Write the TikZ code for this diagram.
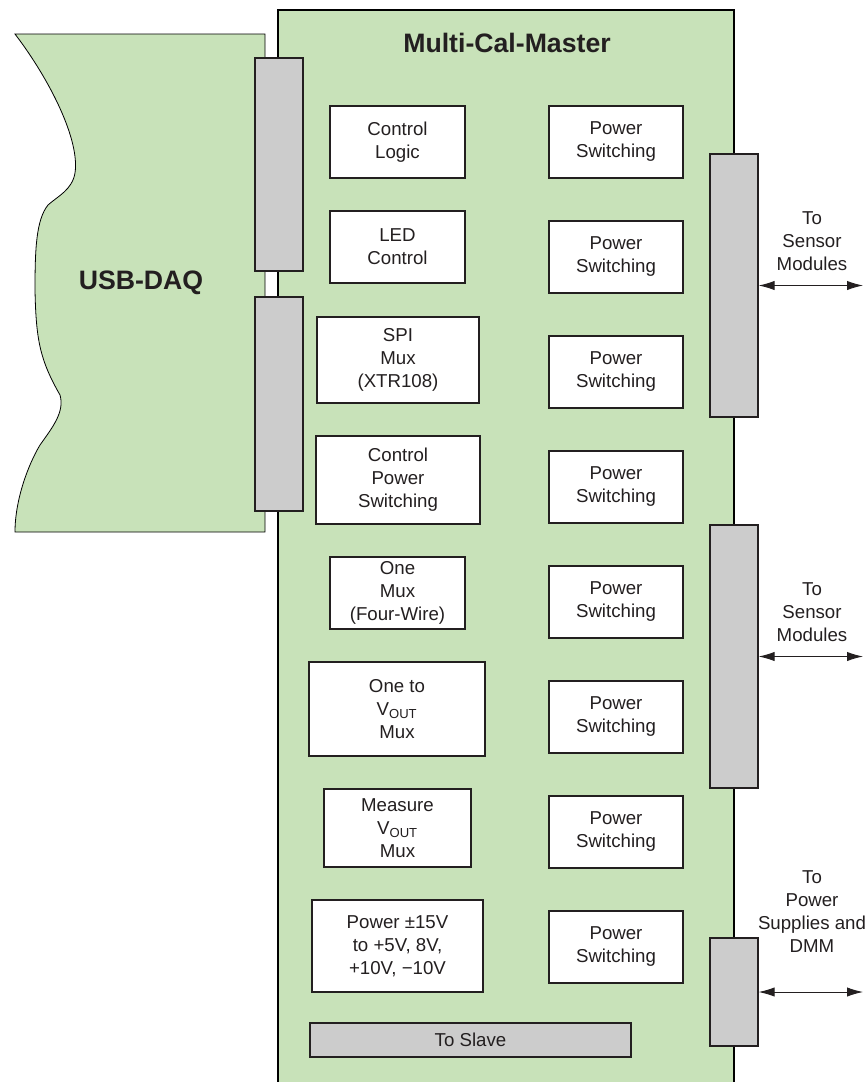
\documentclass[tikz,border=0pt]{standalone}
\usepackage{fontspec}
\setmainfont{Liberation Sans}
\usetikzlibrary{arrows.meta}
\definecolor{boardgreen}{RGB}{200,226,185}
\definecolor{conngray}{RGB}{204,204,204}
\definecolor{inkgray}{RGB}{35,31,32}
\tikzset{
  sz/.style 2 args={minimum width=#1*0.75pt, minimum height=#2*0.75pt},
  blk/.style={draw=inkgray, fill=white, line width=0.8pt, inner sep=0pt, align=center,
    text=inkgray, font=\fontsize{14}{17.25}\selectfont},
  psw/.style={blk, sz={134}{72}},
  conn/.style={draw=inkgray, fill=conngray, line width=0.9pt, inner sep=0pt,
    text=inkgray, font=\fontsize{14}{17.25}\selectfont},
  lbl/.style={align=center, inner sep=0pt, text=inkgray, font=\fontsize{14}{17.25}\selectfont},
  ttl/.style={inner sep=0pt, text=inkgray, font=\fontsize{20}{24}\selectfont\bfseries},
  link/.style={{Latex[length=12pt,width=7pt]}-{Latex[length=12pt,width=7pt]}, inkgray, line width=0.7pt}
}
\begin{document}
\begin{tikzpicture}[x=0.75pt, y=-0.75pt]
\useasboundingbox (0,0) rectangle (867,1082);
% USB-DAQ card, torn edge on the left
\filldraw[fill=boardgreen, draw=black, line width=0.6pt] (265,34) -- (15,34)
  .. controls (50,80) and (80,140) .. (75,173)
  .. controls (72,190) and (58,196) .. (48,205)
  .. controls (36,220) and (35,250) .. (35,290)
  .. controls (36,340) and (40,360) .. (60,395)
  .. controls (65,412) and (52,428) .. (40,445)
  .. controls (28,465) and (15,500) .. (15,532)
  -- (265,532) -- cycle;
\node[ttl] (daq) at (141,283) {USB-DAQ};
% master board
\fill[boardgreen] (278,10) rectangle (734,1082);
\draw[black, line width=1.2pt] (278,1082) -- (278,10) -- (734,10) -- (734,1082);
\node[ttl] (mcm) at (507,43) {Multi-Cal-Master};
% connectors
\node[conn, sz={48}{213}] (ul) at (279,164.5) {};
\node[conn, sz={48}{214}] (ll) at (279,404) {};
\node[conn, sz={48}{263}] (sc1) at (734,285.5) {};
\node[conn, sz={48}{263}] (sc2) at (734,656.5) {};
\node[conn, sz={48}{108}] (pc) at (734,992) {};
\node[conn, sz={321}{34}] (slave) at (470.5,1040) {To Slave};
% left column
\node[blk, sz={135}{72}] (cl) at (397.5,142) {Control\\Logic};
\node[blk, sz={135}{72}] (led) at (397.5,247) {LED\\Control};
\node[blk, sz={162}{86}] (spi) at (398,360) {SPI\\Mux\\(XTR108)};
\node[blk, sz={164}{88}] (cps) at (398,480) {Control\\Power\\Switching};
\node[blk, sz={135}{72}] (one) at (397.5,593) {One\\Mux\\(Four-Wire)};
\node[blk, sz={176}{94}] (vout) at (397,709) {One to\\V\textsubscript{OUT}\\Mux};
\node[blk, sz={147}{78}] (meas) at (397.5,828) {Measure\\V\textsubscript{OUT}\\Mux};
\node[blk, sz={171}{92}] (pwr) at (397.5,946) {Power ±15V\\to +5V, 8V,\\+10V, −10V};
% right column
\foreach \i in {1,...,8}
  \node[psw] (ps\i) at (616,{142+115*(\i-1)}) {Power\\Switching};
% off-board links
\coordinate (rim) at (863,0);
\draw[link] (sc1.east) -- (sc1.east -| rim);
\draw[link] (sc2.east) -- (sc2.east -| rim);
\draw[link] (pc.east) -- (pc.east -| rim);
\node[lbl] (to1) at (812,241) {To\\Sensor\\Modules};
\node[lbl] (to2) at (812,612) {To\\Sensor\\Modules};
\node[lbl] (to3) at (812,912) {To\\Power\\Supplies and\\DMM};
\end{tikzpicture}
\end{document}
